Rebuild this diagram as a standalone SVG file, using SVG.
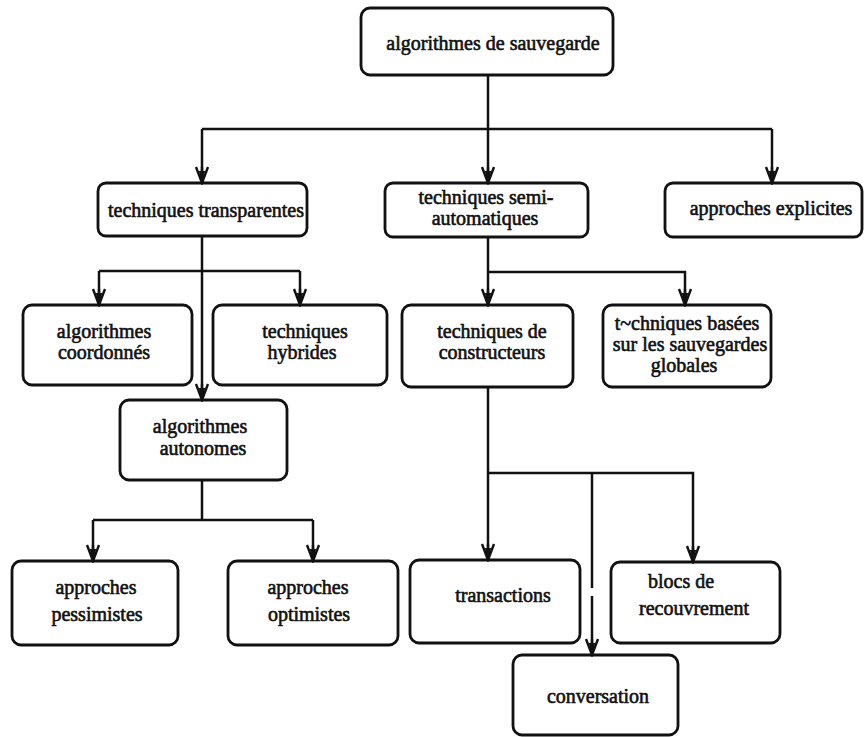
<svg xmlns="http://www.w3.org/2000/svg" width="864" height="737" viewBox="0 0 864 737">
  <style>
    .box { fill: none; stroke: #111; stroke-width: 2.8; }
    .lbl { font-family: "Liberation Serif", "DejaVu Serif", serif; font-size: 20px; fill: #111; stroke: #111; stroke-width: 0.6; text-anchor: middle; }
    .wire { fill: none; stroke: #111; stroke-width: 2.5; }
  </style>
  <defs>
    <!-- open V head with a spine, drawn pointing along +x -->
    <marker id="head" markerUnits="userSpaceOnUse" markerWidth="20" markerHeight="16" viewBox="-18 -8 20 16" refX="0" refY="0" orient="auto">
      <path d="M-16,-6 L0,0 L-16,6 M0,0 L-16,0" fill="none" stroke="#111" stroke-width="2.4"/>
      <path d="M-12,-3.2 L0,0 L-12,3.2 Z" fill="#111"/>
    </marker>
  </defs>
  <rect width="864" height="737" fill="#fff"/>

  <!-- connectors -->
  <g id="connectors">
    <!-- from root -->
    <path class="wire" d="M488,75 V183" marker-end="url(#head)"/>
    <path class="wire" d="M202,129 H772"/>
    <path class="wire" d="M202,129 V183" marker-end="url(#head)"/>
    <path class="wire" d="M772,129 V183" marker-end="url(#head)"/>
    <!-- from techniques transparentes -->
    <path class="wire" d="M202,236 V400" marker-end="url(#head)"/>
    <path class="wire" d="M99,271 H300"/>
    <path class="wire" d="M99,271 V305" marker-end="url(#head)"/>
    <path class="wire" d="M300,271 V305" marker-end="url(#head)"/>
    <!-- from techniques semi-automatiques -->
    <path class="wire" d="M488,237 V305" marker-end="url(#head)"/>
    <path class="wire" d="M488,272 H685 V305" marker-end="url(#head)"/>
    <!-- from algorithmes autonomes -->
    <path class="wire" d="M202,480 V520"/>
    <path class="wire" d="M93,520 H313"/>
    <path class="wire" d="M93,520 V561" marker-end="url(#head)"/>
    <path class="wire" d="M313,520 V561" marker-end="url(#head)"/>
    <!-- from techniques de constructeurs -->
    <path class="wire" d="M488,387 V560" marker-end="url(#head)"/>
    <path class="wire" d="M488,473 H693 V562" marker-end="url(#head)"/>
    <path class="wire" d="M592,473 V588"/>
    <path class="wire" d="M592,596 V655" marker-end="url(#head)"/>
  </g>

  <g id="n-root">
    <rect class="box" x="361" y="8" width="252" height="67" rx="9"/>
    <text class="lbl" x="493" y="50">algorithmes de sauvegarde</text>
  </g>

  <g id="n-transparentes">
    <rect class="box" x="98" y="183" width="209" height="53" rx="8"/>
    <text class="lbl" x="206" y="217">techniques transparentes</text>
  </g>

  <g id="n-semi">
    <rect class="box" x="385" y="183" width="203" height="54" rx="8"/>
    <text class="lbl" x="486" y="204">techniques semi-</text>
    <text class="lbl" x="485" y="225">automatiques</text>
  </g>

  <g id="n-explicites">
    <rect class="box" x="665" y="183" width="197" height="54" rx="8"/>
    <text class="lbl" x="771" y="215">approches explicites</text>
  </g>

  <g id="n-coordonnes">
    <rect class="box" x="23" y="305" width="169" height="80" rx="9"/>
    <text class="lbl" x="104" y="338">algorithmes</text>
    <text class="lbl" x="104" y="359">coordonnés</text>
  </g>

  <g id="n-hybrides">
    <rect class="box" x="213" y="305" width="174" height="80" rx="9"/>
    <text class="lbl" x="305" y="338">techniques</text>
    <text class="lbl" x="302" y="359">hybrides</text>
  </g>

  <g id="n-constructeurs">
    <rect class="box" x="402" y="305" width="171" height="82" rx="9"/>
    <text class="lbl" x="492" y="338">techniques de</text>
    <text class="lbl" x="492" y="359">constructeurs</text>
  </g>

  <g id="n-globales">
    <rect class="box" x="603" y="305" width="168" height="82" rx="9"/>
    <text class="lbl" x="687" y="330">t~chniques basées</text>
    <text class="lbl" x="690" y="351">sur les sauvegardes</text>
    <text class="lbl" x="684" y="372">globales</text>
  </g>

  <g id="n-autonomes">
    <rect class="box" x="120" y="400" width="167" height="80" rx="9"/>
    <text class="lbl" x="200" y="433">algorithmes</text>
    <text class="lbl" x="203" y="455">autonomes</text>
  </g>

  <g id="n-pessimistes">
    <rect class="box" x="12" y="561" width="166" height="84" rx="9"/>
    <text class="lbl" x="96" y="594">approches</text>
    <text class="lbl" x="97" y="621">pessimistes</text>
  </g>

  <g id="n-optimistes">
    <rect class="box" x="228" y="561" width="170" height="84" rx="9"/>
    <text class="lbl" x="308" y="594">approches</text>
    <text class="lbl" x="309" y="621">optimistes</text>
  </g>

  <g id="n-transactions">
    <rect class="box" x="410" y="560" width="170" height="83" rx="9"/>
    <text class="lbl" x="503" y="602">transactions</text>
  </g>

  <g id="n-blocs">
    <rect class="box" x="611" y="562" width="169" height="81" rx="9"/>
    <text class="lbl" x="681" y="588">blocs de</text>
    <text class="lbl" x="694" y="615">recouvrement</text>
  </g>

  <g id="n-conversation">
    <rect class="box" x="513" y="655" width="165" height="80" rx="9"/>
    <text class="lbl" x="598" y="703">conversation</text>
  </g>
</svg>
